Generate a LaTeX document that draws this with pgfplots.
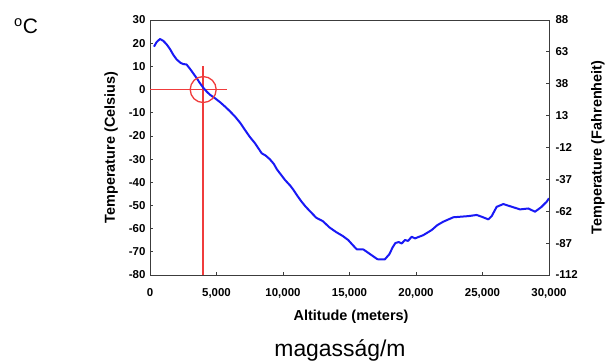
\documentclass[border=0pt]{standalone}
\usepackage{fontspec}
\setmainfont{Liberation Sans}
\usepackage{pgfplots}
\pgfplotsset{compat=1.18}
\definecolor{curveblue}{RGB}{25,25,245}
\definecolor{guidered}{RGB}{240,60,60}
\definecolor{framegray}{RGB}{60,60,60}
\begin{document}
\begin{tikzpicture}
\path[use as bounding box] (0,0) rectangle (606bp,362bp);
\node[anchor=base, font=\fontsize{21}{21}\selectfont] at (26bp,328bp) {\textsuperscript{o}C};
\node[anchor=base, font=\fontsize{23}{23}\selectfont] at (340bp,6bp) {magasság/m};
\begin{axis}[
  at={(150bp,87bp)}, anchor=south west,
  scale only axis, width=399bp, height=255bp,
  xmin=0, xmax=30000, ymin=-80, ymax=30,
  xtick={0,5000,...,30000}, ytick={-80,-70,...,30},
  xtick pos=bottom, ytick pos=left, tick align=inside,
  major tick length=3bp,
  scaled x ticks=false,
  /pgf/number format/.cd, 1000 sep={,}, assume math mode=true, /pgfplots/.cd,
  ticklabel style={font=\fontsize{11.5}{11.5}\selectfont\bfseries},
  xticklabel style={yshift=-10bp},
  yticklabel style={xshift=-1bp},
  xlabel={Altitude (meters)}, ylabel={Temperature (Celsius)},
  label style={font=\fontsize{14.5}{14.5}\selectfont\bfseries},
  xlabel style={at={(axis description cs:0.504,-0.165)}, anchor=center},
  ylabel style={at={(axis description cs:-0.0977,0.5)}, anchor=center, rotate=0},
  axis line style={framegray, line width=1bp},
  tick style={framegray, line width=0.8bp},
  clip=false,
]
\addplot[color=guidered, line width=1.6bp, mark=none] coordinates {(4000,-80) (4000,10)};
\addplot[color=guidered, line width=1.6bp, mark=none] coordinates {(0,0) (5800,0)};
\addplot[only marks, mark=o, mark size=13bp, color=guidered, mark options={line width=1.3bp}] coordinates {(4000,0)};
\addplot[curveblue, line width=2bp, line join=round, no marks] coordinates {
(300,18.5) (500,20.5) (750,21.8) (1000,21) (1250,19.5) (1500,17.5) (1750,15) (2000,13)
(2300,11.5) (2500,11) (2750,10.8) (3000,9) (3250,7) (3500,5) (3750,2.8) (4000,0.8)
(4250,-0.8) (4500,-2.2) (4900,-3.8) (5300,-5.6) (5650,-7.4) (6000,-9.3) (6400,-11.7)
(6800,-14.5) (7150,-17.5) (7500,-20.4) (7900,-23.2) (8250,-26.2) (8400,-27.5) (8700,-28.5)
(9000,-30) (9300,-32) (9550,-34.5) (10150,-39) (10550,-41.5) (10800,-43.4) (11100,-46)
(11400,-48.4) (11700,-50.5) (12030,-52.5) (12500,-55.3) (13000,-56.8) (13500,-59.5)
(14000,-61.5) (14500,-63.2) (14900,-64.9) (15200,-66.8) (15540,-68.9) (16050,-69)
(16550,-71) (17100,-73.2) (17650,-73.3) (18000,-71) (18250,-68) (18450,-66.2) (18700,-65.8)
(18925,-66.4) (19173,-64.9) (19400,-65.3) (19677,-63.5) (19925,-64.2) (20551,-62.8)
(21180,-60.6) (21600,-58.5) (22053,-57) (22807,-55.1) (23935,-54.6) (24564,-54.1)
(25000,-55) (25436,-56) (25700,-54.5) (26065,-50.6) (26566,-49.4) (27000,-50.2)
(27820,-51.7) (28446,-51.3) (28947,-52.7) (29400,-50.8) (29825,-48.4) (30000,-46.9)
};
\end{axis}
\begin{axis}[
  at={(150bp,87bp)}, anchor=south west,
  scale only axis, width=399bp, height=255bp,
  xmin=0, xmax=30000, ymin=-112, ymax=88,
  axis x line=none, axis y line*=right,
  ytick={-112,-87,...,88},
  tick align=inside, major tick length=3bp,
  /pgf/number format/.cd, assume math mode=true, /pgfplots/.cd,
  ticklabel style={font=\fontsize{11.5}{11.5}\selectfont\bfseries},
  yticklabel style={xshift=3bp},
  ylabel={Temperature (Fahrenheit)},
  label style={font=\fontsize{14.5}{14.5}\selectfont\bfseries},
  ylabel style={at={(axis description cs:1.1228,0.5)}, anchor=center, rotate=0},
  axis line style={framegray, line width=1bp},
  tick style={framegray, line width=0.8bp},
]
\end{axis}
\end{tikzpicture}
\end{document}
